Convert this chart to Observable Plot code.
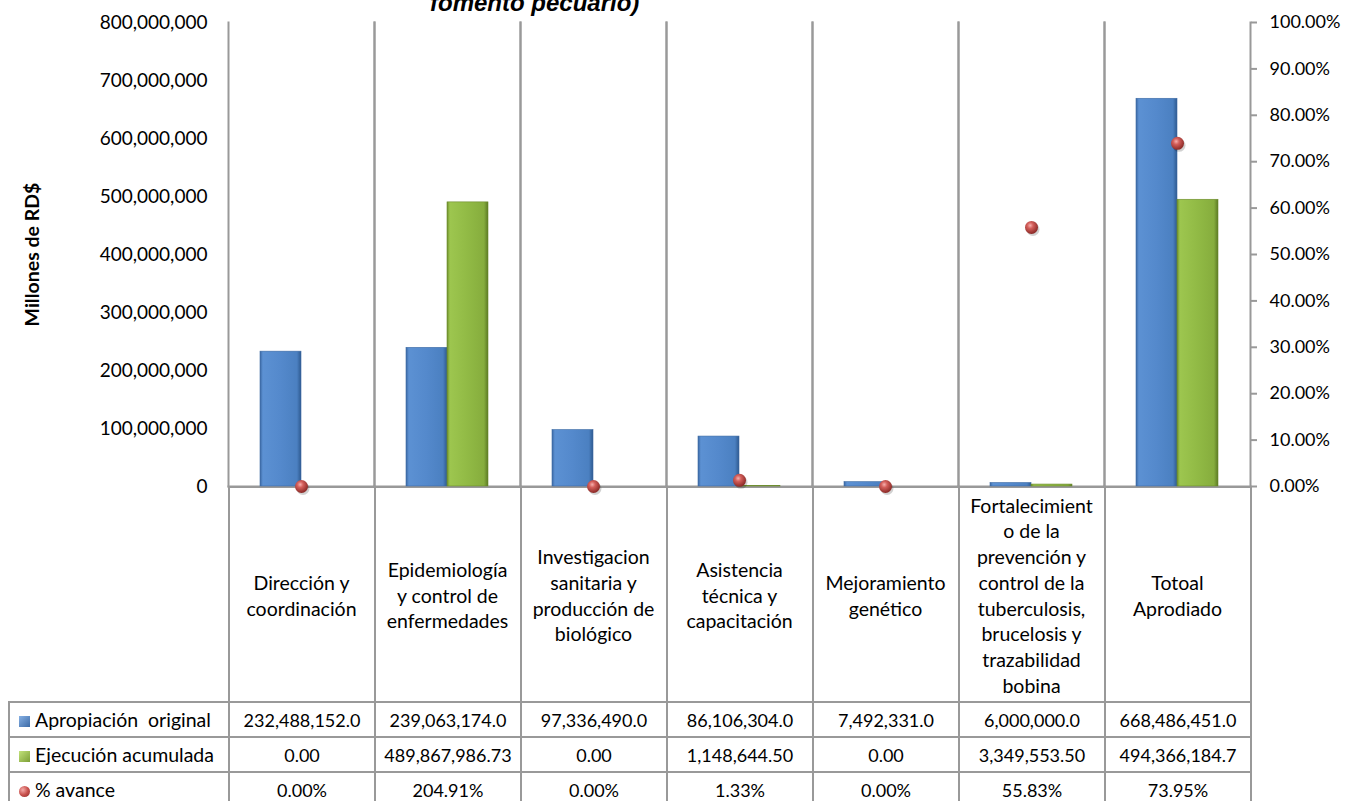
<!DOCTYPE html>
<html>
<head>
<meta charset="utf-8">
<script src="https://cdn.jsdelivr.net/npm/d3@7"></script>
<script src="https://cdn.jsdelivr.net/npm/@observablehq/plot@0.6"></script>
<style>
  html, body { margin: 0; padding: 0; background: #fff; }
  #wrap { position: relative; width: 1346px; height: 801px; overflow: hidden; font-family: Lato, "Open Sans", sans-serif; color: #000; }
  #title { position: absolute; left: 430px; top: -9px; font: italic bold 24px "Liberation Sans", Arial, sans-serif; line-height: 1; white-space: nowrap; }
  #tbl { position: absolute; left: 8px; top: 486px; border-collapse: collapse; table-layout: fixed; font-family: Lato, sans-serif; font-size: 18px; color: #000; }
  #tbl td { border: 2px solid #999; padding: 0; text-align: center; white-space: pre; overflow: hidden; }
  #tbl td.blank { border: none; }
  #tbl td.leg { text-align: left; padding-left: 9px; font-size: 19.5px; }
  .ico { display: inline-block; width: 11px; height: 11px; margin-right: 5px; vertical-align: 0px; }
  .layer { position: absolute; left: 0; top: 0; }
</style>
</head>
<body>
<div id="wrap">
  <div id="title"></div>
  <table id="tbl"></table>
  <div id="p1" class="layer"></div>
  <div id="p2" class="layer"></div>
</div>
<script>
// ---------- data ----------
const titleText = "fomento pecuario)";
const yTitle = "Millones de RD$";
const categories = [
  "Dirección y coordinación",
  "Epidemiología y control de enfermedades",
  "Investigacion sanitaria y producción de biológico",
  "Asistencia técnica y capacitación",
  "Mejoramiento genético",
  "Fortalecimiento de la prevención y control de la tuberculosis, brucelosis y trazabilidad bobina",
  "Totoal Aprodiado"
];
const categoryLabels = [
  "Dirección y\ncoordinación",
  "Epidemiología\ny control de\nenfermedades",
  "Investigacion\nsanitaria y\nproducción de\nbiológico",
  "Asistencia\ntécnica y\ncapacitación",
  "Mejoramiento\ngenético",
  "Fortalecimient\no de la\nprevención y\ncontrol de la\ntuberculosis,\nbrucelosis y\ntrazabilidad\nbobina",
  "Totoal\nAprodiado"
];
const seriesNames = ["Apropiación  original", "Ejecución acumulada", "% avance"];
const apropiacion = [232488152.0, 239063174.0, 97336490.0, 86106304.0, 7492331.0, 6000000.0, 668486451.0];
const ejecucion = [0.00, 489867986.73, 0.00, 1148644.50, 0.00, 3349553.50, 494366184.7];
const ejecucionDecimals = [2, 2, 2, 2, 2, 2, 1];
const avance = [0.00, 204.91, 0.00, 1.33, 0.00, 55.83, 73.95];
const leftTicks = [0, 100000000, 200000000, 300000000, 400000000, 500000000, 600000000, 700000000, 800000000];
const rightTicks = [0, 0.1, 0.2, 0.3, 0.4, 0.5, 0.6, 0.7, 0.8, 0.9, 1.0];

// ---------- shared layout ----------
const W = 1346, H = 801;
const M = {top: 22, bottom: 315, left: 228, right: 96};
const gridColor = "#999";

document.getElementById("title").textContent = titleText;

const barData = categories.flatMap((c, i) => [
  {cat: c, series: seriesNames[0], value: apropiacion[i]},
  {cat: c, series: seriesNames[1], value: ejecucion[i]}
]);
const dotData = categories.map((c, i) => ({cat: c, pct: avance[i] / 100}));

function addDefs(svg) {
  const defs = d3.select(svg).insert("defs", ":first-child");
  const lin = (id, stops) => {
    const g = defs.append("linearGradient").attr("id", id).attr("x1", 0).attr("x2", 1).attr("y1", 0).attr("y2", 0);
    stops.forEach(([o, c]) => g.append("stop").attr("offset", o).attr("stop-color", c));
  };
  lin("gBlue", [["0%", "#3a68a3"], ["7%", "#5c91d3"], ["50%", "#5489cc"], ["90%", "#4b80c1"], ["100%", "#2e5a90"]]);
  lin("gGreen", [["0%", "#6f8f2c"], ["7%", "#9dc64f"], ["50%", "#91ba45"], ["90%", "#86ad3d"], ["100%", "#5c7a24"]]);
  const r = defs.append("radialGradient").attr("id", "gRed").attr("cx", "40%").attr("cy", "35%").attr("r", "65%");
  [["0%", "#f6b0ae"], ["35%", "#d45f5b"], ["100%", "#8a2926"]].forEach(([o, c]) => r.append("stop").attr("offset", o).attr("stop-color", c));
}

// ---------- bars (left axis) ----------
const p1 = Plot.plot({
  width: W, height: H,
  marginTop: M.top, marginBottom: M.bottom, marginLeft: M.left, marginRight: M.right,
  style: {fontFamily: "Lato, sans-serif", fontSize: "19px", color: "#000", background: "transparent", overflow: "visible"},
  fx: {domain: categories, padding: 0, label: null},
  x: {domain: seriesNames.slice(0, 2), paddingInner: 0, paddingOuter: 0.76, axis: null},
  y: {domain: [0, 800000000], axis: null},
  marks: [
    Plot.frame({anchor: "left", stroke: gridColor, strokeWidth: 2}),
    Plot.frame({anchor: "right", stroke: gridColor, strokeWidth: 2}),
    Plot.frame({anchor: "bottom", stroke: gridColor, strokeWidth: 2}),
    Plot.barY(barData, {filter: d => d.series === seriesNames[0], fx: "cat", x: "series", y: "value", fill: "url(#gBlue)", stroke: "#3d6aa3", strokeWidth: 0.6}),
    Plot.barY(barData, {filter: d => d.series === seriesNames[1], fx: "cat", x: "series", y: "value", fill: "url(#gGreen)", stroke: "#6a8a2a", strokeWidth: 0.6}),
    Plot.axisY(leftTicks, {anchor: "left", tickSize: 0, tickPadding: 21, tickFormat: d3.format(","), label: null}),
    Plot.axisFx({anchor: "bottom", tickSize: 0, tickPadding: 108, lineAnchor: "middle", lineHeight: 1.32, fontSize: 19.5,
      tickFormat: d => categoryLabels[categories.indexOf(d)], label: null})
  ]
});
addDefs(p1);
document.getElementById("p1").appendChild(p1);

// ---------- % avance (right axis) ----------
const p2 = Plot.plot({
  width: W, height: H,
  marginTop: M.top, marginBottom: M.bottom, marginLeft: M.left, marginRight: M.right,
  style: {fontFamily: "Lato, sans-serif", fontSize: "18px", color: "#000", background: "transparent", overflow: "visible"},
  x: {type: "band", domain: categories, padding: 0, axis: null},
  y: {domain: [0, 1], axis: null},
  marks: [
    Plot.axisY(rightTicks, {anchor: "right", tickSize: 6, tickPadding: 13, tickFormat: d3.format(".2%"), stroke: gridColor, strokeWidth: 2, fill: "#000", label: null}),
    Plot.dot(dotData, {filter: d => d.pct <= 1, x: "cat", y: "pct", r: 6.5, fill: "#000", fillOpacity: 0.18, dx: 1.5, dy: 2}),
    Plot.dot(dotData, {filter: d => d.pct <= 1, x: "cat", y: "pct", r: 6.5, fill: "url(#gRed)"}),
    Plot.text([yTitle], {text: d => d, frameAnchor: "left", textAnchor: "middle", rotate: -90, dx: -196, fontWeight: "bold", fontSize: 19.5})
  ]
});
addDefs(p2);
document.getElementById("p2").appendChild(p2);

// ---------- data table ----------
const tbl = d3.select("#tbl");
const cg = tbl.append("colgroup");
cg.append("col").style("width", "220px");
categories.forEach(() => cg.append("col").style("width", "146px"));

const head = tbl.append("tr").style("height", "215px");
head.append("td").attr("class", "blank");
categories.forEach(() => head.append("td"));

const icons = [
  "background:linear-gradient(135deg,#86b0e4,#3c6aa6)",
  "background:linear-gradient(135deg,#c2e27a,#7c9e36)",
  "border-radius:50%;background:radial-gradient(circle at 35% 35%,#f5aaa8,#c8504c 50%,#8a2926)"
];
const fmtA = d3.format(",.1f");
const rowsText = [
  apropiacion.map(v => fmtA(v)),
  ejecucion.map((v, i) => d3.format(`,.${ejecucionDecimals[i]}f`)(v)),
  avance.map(v => d3.format(".2f")(v) + "%")
];
seriesNames.forEach((name, r) => {
  const tr = tbl.append("tr").style("height", "35px");
  const leg = tr.append("td").attr("class", "leg");
  leg.append("span").attr("class", "ico").attr("style", icons[r]);
  leg.append("span").text(name);
  rowsText[r].forEach(t => tr.append("td").text(t));
});
</script>
</body>
</html>
